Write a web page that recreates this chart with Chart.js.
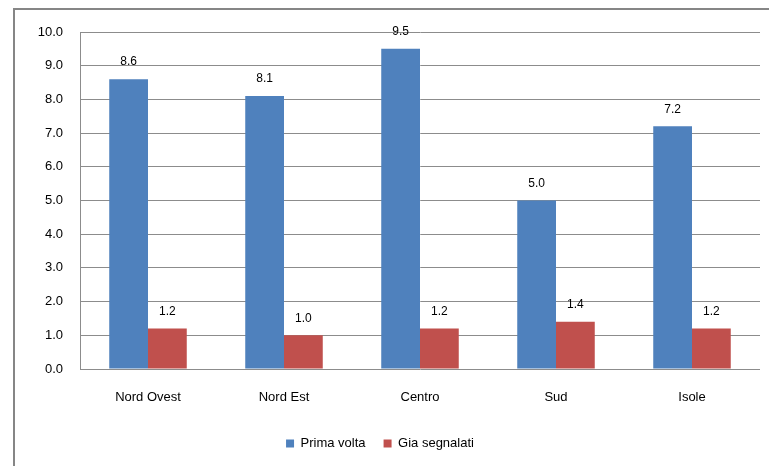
<!DOCTYPE html>
<html>
<head>
<meta charset="utf-8">
<script src="https://cdn.jsdelivr.net/npm/chart.js@4"></script>
<style>
  html, body { margin: 0; padding: 0; background: #fff; }
  #wrap { width: 769px; height: 466px; }
</style>
</head>
<body>
<div id="wrap"><canvas id="chart" width="769" height="466"></canvas></div>
<script>
// dati del grafico
const categories = ["Nord Ovest", "Nord Est", "Centro", "Sud", "Isole"];
const primaVolta = [8.6, 8.1, 9.5, 5.0, 7.2];
const giaSegnalati = [1.2, 1.0, 1.2, 1.4, 1.2];
const seriesNames = ["Prima volta", "Gia segnalati"];

const FONT = "'Liberation Sans', Arial, sans-serif";

// cornice grigia attorno al grafico
const framePlugin = {
  id: "frame",
  beforeDraw(chart) {
    const ctx = chart.ctx;
    ctx.save();
    ctx.fillStyle = "#fff";
    ctx.fillRect(0, 0, chart.width, chart.height);
    ctx.strokeStyle = "#868686";
    ctx.lineWidth = 2;
    ctx.strokeRect(14, 9, chart.width + 20, chart.height + 20);
    ctx.restore();
  }
};

// etichette sopra le barre
const labelsPlugin = {
  id: "barLabels",
  afterDatasetsDraw(chart) {
    const ctx = chart.ctx;
    ctx.save();
    ctx.font = "12px " + FONT;
    ctx.fillStyle = "#000";
    ctx.textAlign = "center";
    ctx.textBaseline = "middle";
    chart.data.datasets.forEach((ds, i) => {
      chart.getDatasetMeta(i).data.forEach((bar, j) => {
        ctx.fillText(ds.data[j].toFixed(1), bar.x, bar.y - 17);
      });
    });
    ctx.restore();
  }
};

new Chart(document.getElementById("chart"), {
  type: "bar",
  data: {
    labels: categories,
    datasets: [
      { label: seriesNames[0], data: primaVolta, backgroundColor: "#4F81BD" },
      { label: seriesNames[1], data: giaSegnalati, backgroundColor: "#C0504D" }
    ]
  },
  options: {
    responsive: false,
    animation: false,
    devicePixelRatio: 1,
    layout: { padding: { left: 0, right: 9, top: 32, bottom: 6 } },
    datasets: {
      bar: { categoryPercentage: 0.57, barPercentage: 1.0 }
    },
    scales: {
      x: {
        grid: { display: false, drawTicks: false },
        border: { display: false },
        ticks: { color: "#000", font: { family: FONT, size: 13 }, padding: 21 },
        afterFit(scale) { scale.height = 50; }
      },
      y: {
        min: 0,
        max: 10,
        ticks: {
          stepSize: 1,
          color: "#000",
          font: { family: FONT, size: 13 },
          padding: 17,
          callback: v => v.toFixed(1)
        },
        grid: { color: "#8c8c8c", lineWidth: 1, drawTicks: false },
        border: { display: true, color: "#8c8c8c" },
        afterFit(scale) { scale.width = 80; }
      }
    },
    plugins: {
      legend: {
        position: "bottom",
        labels: {
          boxWidth: 8,
          boxHeight: 8,
          padding: 18,
          color: "#000",
          font: { family: FONT, size: 13 }
        }
      },
      tooltip: { enabled: false }
    }
  },
  plugins: [framePlugin, labelsPlugin]
});
</script>
</body>
</html>
